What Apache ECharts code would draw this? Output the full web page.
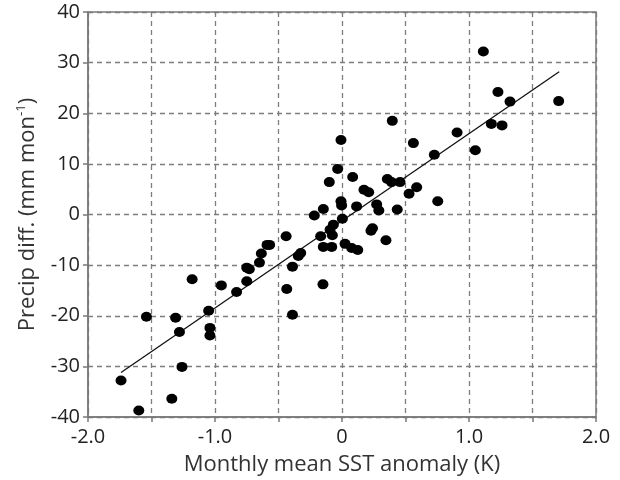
<!DOCTYPE html>
<html>
<head>
<meta charset="utf-8">
<script src="https://cdn.jsdelivr.net/npm/echarts@6/dist/echarts.min.js"></script>
<style>
	html, body { margin: 0; padding: 0; background: #fff; }
	#chart { width: 620px; height: 480px; }
</style>
</head>
<body>
<div id="chart"></div>
<script>
// monthly mean SST anomaly (K)
let sstAnomaly = [
	-1.74, -1.60, -1.34, -1.26, -1.54, -1.31, -1.28, -1.18, -1.05, -1.04,
	-1.04, -0.95, -0.83, -0.75, -0.75, -0.73, -0.65, -0.635, -0.59, -0.57,
	-0.44, -0.39, -0.435, -0.39, -0.344, -0.325, -0.15,
	-0.034, -0.10, 0.084, 0.173, 0.21, 0.357, 0.39, 0.457, 0.588, 0.528,
	0.435, 0.273, 0.29, 0.115, -0.008, -0.003, -0.147, -0.218, 0.003, -0.068,
	-0.094, -0.076, -0.168, 0.24, 0.228, 0.346, -0.147, -0.081, 0.024, 0.076,
	0.124,
	1.113, 1.228, 1.323, 1.706, 1.176, 1.26, 0.906, 1.05, 0.727, 0.396,
	0.562, -0.008, 0.754,
];
// precip difference (mm mon-1)
let precipDiff = [
	-32.8, -38.7, -36.4, -30.1, -20.2, -20.4, -23.2, -12.8, -19.0, -22.4,
	-23.9, -14.0, -15.3, -13.2, -10.5, -10.8, -9.5, -7.7, -6.0, -6.0,
	-4.3, -10.3, -14.7, -19.8, -8.2, -7.6, -13.8,
	9.0, 6.4, 7.4, 4.9, 4.4, 7.0, 6.4, 6.4, 5.4, 4.1,
	1.0, 2.0, 0.8, 1.6, 2.6, 1.8, 1.1, -0.2, -0.85, -2.0,
	-3.0, -4.1, -4.3, -2.7, -3.2, -5.1, -6.4, -6.4, -5.8, -6.6,
	-7.0,
	32.2, 24.2, 22.3, 22.4, 17.9, 17.6, 16.2, 12.7, 11.8, 18.5,
	14.1, 14.7, 2.6,
];
// regression line end points
let fitX = [-1.74, 1.71];
let fitY = [-31.2, 28.2];

let xTicks = [-2.0, -1.0, 0, 1.0, 2.0];
let yTicks = [-40, -30, -20, -10, 0, 10, 20, 30, 40];

let font = "'Open Sans', 'Noto Sans', sans-serif";
let gridLine = {
	show: true,
	lineStyle: { color: "#7d7d7d", type: [5, 4], width: 1.3 },
};

let chart = echarts.init(document.getElementById("chart"));
chart.setOption({
	animation: false,
	grid: {
		left: 88,
		right: 24,
		top: 12,
		bottom: 63,
		containLabel: false,
		outerBoundsMode: "none",
		show: true,
		borderColor: "#7a7a7a",
		borderWidth: 1.5,
	},
	xAxis: {
		type: "value",
		min: -2,
		max: 2,
		interval: 0.5,
		name: "Monthly mean SST anomaly (K)",
		nameLocation: "middle",
		nameGap: 37,
		nameTextStyle: { fontFamily: font, fontSize: 22, color: "#333" },
		axisLine: { show: true, onZero: false, lineStyle: { color: "#7a7a7a", width: 1.5 } },
		axisTick: { show: true, inside: false, length: 5, lineStyle: { color: "#7a7a7a", width: 1.5 } },
		axisLabel: {
			fontFamily: font,
			fontSize: 20,
			color: "#222",
			margin: 10,
			formatter: function (v) {
				if (xTicks.indexOf(v) < 0) return "";
				return v === 0 ? "0" : v.toFixed(1);
			},
		},
		splitLine: gridLine,
	},
	yAxis: {
		type: "value",
		min: -40,
		max: 40,
		interval: 10,
		name: "{n|Precip diff. (mm mon}{s|-1}{n|)}",
		nameLocation: "middle",
		nameGap: 45,
		nameTextStyle: {
			rich: {
				n: { fontFamily: font, fontSize: 22, color: "#333", lineHeight: 26 },
				s: { fontFamily: font, fontSize: 13, color: "#333", lineHeight: 26, verticalAlign: "top", padding: [0, 0, 12, 0] },
			},
		},
		axisLine: { show: true, onZero: false, lineStyle: { color: "#7a7a7a", width: 1.5 } },
		axisTick: { show: true, inside: false, length: 5, lineStyle: { color: "#7a7a7a", width: 1.5 } },
		axisLabel: {
			fontFamily: font,
			fontSize: 20,
			color: "#222",
			margin: 8,
			formatter: function (v) {
				return yTicks.indexOf(v) < 0 ? "" : String(v);
			},
		},
		splitLine: gridLine,
	},
	series: [
		{
			type: "line",
			data: fitX.map((x, i) => [x, fitY[i]]),
			showSymbol: false,
			symbol: "none",
			lineStyle: { color: "#111", width: 1.3 },
			z: 3,
		},
		{
			type: "scatter",
			data: sstAnomaly.map((x, i) => [x, precipDiff[i]]),
			symbol: "circle",
			symbolSize: [11, 10],
			itemStyle: { color: "#000", opacity: 1 },
			z: 4,
		},
	],
});
</script>
</body>
</html>
